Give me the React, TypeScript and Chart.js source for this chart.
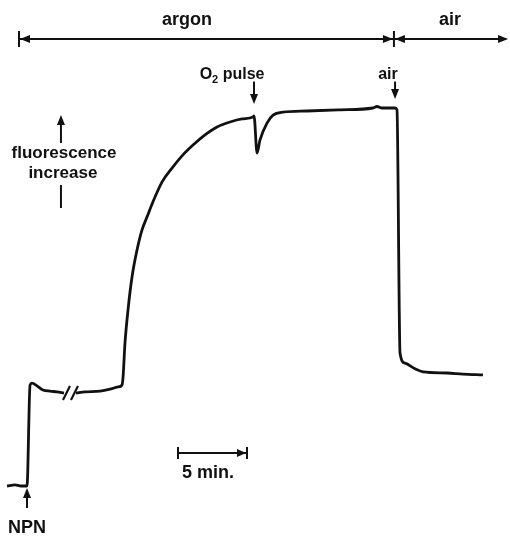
import { useEffect, useRef } from "react";
import { Chart, registerables } from "chart.js";

Chart.register(...registerables);

// ---- Data (time in minutes after NPN addition, fluorescence in arbitrary units) ----
const timeMin: number[] = [
  -1.45, -0.87, -0.43, 0, 0.22, 0.36, 0.72, 1.16, 1.67, 2.17, 2.68,
  3.0,
  3.55, 4.2, 5.29, 6.01, 6.59, 6.88, 6.96, 7.1, 7.32, 7.61, 7.97, 8.33, 8.7,
  9.13, 9.78, 10.51, 11.3, 12.03, 12.9, 13.77, 14.71, 15.58, 16.38, 16.45,
  16.67, 16.88, 17.39, 17.83, 18.55, 20.29, 22.68, 25.07, 25.36, 25.72, 26.67,
  26.81, 27.03, 27.39, 28.12, 28.7, 30.43, 31.59, 33.04,
];
const fluorescence: (number | null)[] = [
  0, 0.3, 0, 0, 26.7, 27.2, 26.5, 25.4, 25.1, 24.9, 24.6,
  null,
  24.6, 24.9, 25.1, 25.6, 26.2, 26.7, 28.8, 37.8, 46.6, 55.3, 62.4, 67.7, 71.2,
  75.2, 80.4, 84.1, 87.6, 90.2, 92.9, 95.0, 96.3, 97.1, 97.6, 97.9,
  88.1, 91.5, 96.0, 98.1, 98.9, 99.2, 99.5, 100.0, 100.4, 100.0, 100.0,
  99.5, 35.2, 32.5, 31.0, 30.2, 29.9, 29.6, 29.4,
];

// Gas phases shown in the header bar
const phaseNames: string[] = ["argon", "air"];
const phaseStart: number[] = [-0.58, 26.59];
const phaseEnd: number[] = [26.59, 34.86];
const phaseLabelTime: number[] = [11.59, 30.65];

// Events marked with arrows
const eventNames: string[] = ["NPN", "O2 pulse", "air"];
const eventTimes: number[] = [0, 16.45, 26.67];
const eventLabelTime: number[] = [0, 14.86, 26.16];

// Time scale bar
const scaleBarStart = 10.94;
const scaleBarMinutes = 5;
const scaleBarLabel = "5 min.";

// Axis break marks (time of the two slashes)
const breakTimes: number[] = [2.86, 3.44];

const INK = "#111111";
const FONT = "'Liberation Sans', Arial, sans-serif";

function arrowHead(
  ctx: CanvasRenderingContext2D,
  x: number,
  y: number,
  dir: "left" | "right" | "up" | "down",
  len = 10,
  half = 4
) {
  ctx.beginPath();
  if (dir === "left") {
    ctx.moveTo(x, y);
    ctx.lineTo(x + len, y - half);
    ctx.lineTo(x + len, y + half);
  } else if (dir === "right") {
    ctx.moveTo(x, y);
    ctx.lineTo(x - len, y - half);
    ctx.lineTo(x - len, y + half);
  } else if (dir === "up") {
    ctx.moveTo(x, y);
    ctx.lineTo(x - half, y + len);
    ctx.lineTo(x + half, y + len);
  } else {
    ctx.moveTo(x, y);
    ctx.lineTo(x - half, y - len);
    ctx.lineTo(x + half, y - len);
  }
  ctx.closePath();
  ctx.fill();
}

function seg(ctx: CanvasRenderingContext2D, x1: number, y1: number, x2: number, y2: number) {
  ctx.beginPath();
  ctx.moveTo(x1, y1);
  ctx.lineTo(x2, y2);
  ctx.stroke();
}

const annotationPlugin = {
  id: "figureAnnotations",
  afterDatasetsDraw(chart: any) {
    const ctx: CanvasRenderingContext2D = chart.ctx;
    const X = (v: number) => chart.scales.x.getPixelForValue(v);
    const Y = (v: number) => chart.scales.y.getPixelForValue(v);
    ctx.save();
    ctx.strokeStyle = INK;
    ctx.fillStyle = INK;
    ctx.lineWidth = 2;
    ctx.textAlign = "center";
    ctx.textBaseline = "alphabetic";

    // Header phase bar
    const barY = Y(118.25);
    const x0 = X(phaseStart[0]);
    const xm = X(phaseStart[1]);
    const x1 = X(phaseEnd[1]);
    seg(ctx, x0, barY, x1 - 2, barY);
    seg(ctx, x0, barY - 8, x0, barY + 8);
    seg(ctx, xm, barY - 8, xm, barY + 8);
    arrowHead(ctx, x0 + 1, barY, "left");
    arrowHead(ctx, xm - 1, barY, "right");
    arrowHead(ctx, xm + 1, barY, "left");
    arrowHead(ctx, x1, barY, "right");
    ctx.font = `bold 18px ${FONT}`;
    phaseNames.forEach((n, i) => {
      ctx.fillText(n, X(phaseLabelTime[i]), Y(121.96));
    });

    // NPN (below trace, pointing up)
    {
      const ex = X(eventTimes[0]);
      seg(ctx, ex, Y(-5.82), ex, Y(-0.53) + 6);
      arrowHead(ctx, ex, Y(-0.53), "up", 10, 4);
      ctx.font = `bold 18px ${FONT}`;
      ctx.fillText(eventNames[0], X(eventLabelTime[0]), Y(-12.43));
    }
    // O2 pulse and air (above trace, pointing down)
    const tips = [0, 101.06, 102.4];
    [1, 2].forEach((i) => {
      const ex = X(eventTimes[i]);
      seg(ctx, ex, Y(107.0), ex, Y(tips[i]) - 6);
      arrowHead(ctx, ex, Y(tips[i]), "down", 10, 4);
    });
    ctx.font = `bold 16px ${FONT}`;
    {
      // "O2 pulse" with subscript 2
      const cx = X(eventLabelTime[1]);
      const by = Y(107.67);
      const wO = ctx.measureText("O").width;
      ctx.font = `bold 11px ${FONT}`;
      const w2 = ctx.measureText("2").width;
      ctx.font = `bold 16px ${FONT}`;
      const wRest = ctx.measureText(" pulse").width;
      const total = wO + w2 + wRest;
      let sx = cx - total / 2;
      ctx.textAlign = "left";
      ctx.fillText("O", sx, by);
      sx += wO;
      ctx.font = `bold 11px ${FONT}`;
      ctx.fillText("2", sx, by + 4);
      sx += w2;
      ctx.font = `bold 16px ${FONT}`;
      ctx.fillText(" pulse", sx, by);
      ctx.textAlign = "center";
      ctx.fillText(eventNames[2], X(eventLabelTime[2]), by);
    }

    // Y-direction label
    {
      const ax = X(2.46);
      seg(ctx, ax, Y(90.74), ax, Y(98.15) + 6);
      arrowHead(ctx, ax, Y(98.15), "up", 10, 4);
      seg(ctx, ax, Y(79.63), ax, Y(73.54));
      ctx.font = `bold 17px ${FONT}`;
      ctx.fillText("fluorescence", X(2.68), Y(86.77));
      ctx.fillText("increase", X(2.6), Y(81.48));
    }

    // Time scale bar
    {
      const sy = Y(8.73);
      const sa = X(scaleBarStart);
      const sb = X(scaleBarStart + scaleBarMinutes);
      seg(ctx, sa, sy, sb, sy);
      seg(ctx, sa, sy - 6, sa, sy + 6);
      seg(ctx, sb, sy - 6, sb, sy + 6);
      arrowHead(ctx, sb - 1, sy, "right", 9, 4);
      ctx.font = `bold 18px ${FONT}`;
      ctx.fillText(scaleBarLabel, X(13.12), Y(2.12));
    }

    // Axis break slashes
    {
      ctx.lineWidth = 2.2;
      const by = Y(24.6);
      breakTimes.forEach((t) => {
        const bx = X(t);
        seg(ctx, bx - 3.5, by + 7, bx + 3.5, by - 7);
      });
    }
    ctx.restore();
  },
};

export default function App() {
  const ref = useRef<HTMLCanvasElement | null>(null);
  useEffect(() => {
    if (!ref.current) return;
    const chart = new Chart(ref.current, {
      type: "line",
      data: {
        datasets: [
          {
            data: timeMin.map((t, i) => ({ x: t, y: fluorescence[i] })) as any,
            borderColor: INK,
            borderWidth: 2.8,
            pointRadius: 0,
            cubicInterpolationMode: "monotone",
            spanGaps: false,
            fill: false,
          },
        ],
      },
      options: {
        animation: false,
        responsive: false,
        maintainAspectRatio: false,
        layout: { padding: 0 },
        plugins: {
          legend: { display: false },
          tooltip: { enabled: false },
          title: { display: false },
        },
        scales: {
          x: { type: "linear", min: -1.957, max: 35.0, display: false },
          y: { type: "linear", min: -13.49, max: 128.57, display: false },
        },
      },
      plugins: [annotationPlugin],
    });
    return () => chart.destroy();
  }, []);
  return (
    <canvas
      ref={ref}
      width={510}
      height={537}
      style={{ position: "fixed", left: 0, top: 0, width: 510, height: 537, background: "#fff" }}
    />
  );
}
